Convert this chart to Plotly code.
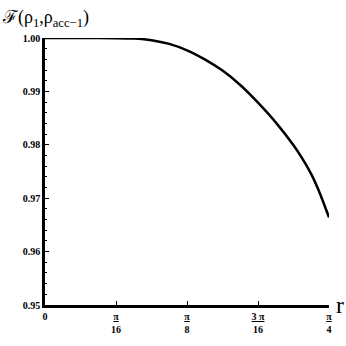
import numpy as np
import plotly.graph_objects as go

# values (r in units of pi/16)
r_units = [0, 0.5, 1.0, 1.25, 1.5, 1.75, 2.0, 2.25, 2.5, 2.75, 3.0, 3.25, 3.5, 3.625, 3.75, 3.875, 4.0]
fidelity = [1.0, 1.0, 0.99997, 0.9999, 0.9996, 0.9989, 0.9977, 0.9960, 0.9939, 0.9912,
            0.9879, 0.9842, 0.9799, 0.9774, 0.9745, 0.9708, 0.9664]
r_vals = [u * np.pi / 16 for u in r_units]

x_tickvals = [0, np.pi / 16, np.pi / 8, 3 * np.pi / 16, np.pi / 4]
x_ticktext = ["0", "<u>π</u><br>16", "<u>π</u><br>8", "<u>3 π</u><br>16", "<u>π</u><br>4"]
y_tickvals = [0.95, 0.96, 0.97, 0.98, 0.99, 1.00]
y_ticktext = ["0.95", "0.96", "0.97", "0.98", "0.99", "1.00"]

serif = "Liberation Serif"

fig = go.Figure()
fig.add_trace(go.Scatter(
    x=r_vals, y=fidelity, mode="lines",
    line=dict(color="black", width=2.5, shape="spline", smoothing=0.6),
    hoverinfo="skip", showlegend=False,
))

fig.update_layout(
    width=346, height=346,
    margin=dict(l=45, r=17, t=38, b=41),
    plot_bgcolor="white", paper_bgcolor="white",
    font=dict(family=serif, color="black"),
    xaxis=dict(
        range=[0, np.pi / 4], showgrid=False, zeroline=False,
        showline=True, linecolor="black", linewidth=3,
        ticks="inside", ticklen=4, tickwidth=1, tickcolor="black",
        tickvals=x_tickvals, ticktext=x_ticktext,
        tickfont=dict(family=serif, size=10, color="black", weight="bold"),
    ),
    yaxis=dict(
        range=[0.95, 1.0], showgrid=False, zeroline=False,
        showline=True, linecolor="black", linewidth=2.5,
        ticks="inside", ticklen=4, tickwidth=1, tickcolor="black",
        tickvals=y_tickvals, ticktext=y_ticktext,
        tickfont=dict(family=serif, size=10, color="black", weight="bold"),
        minor=dict(dtick=0.002, ticks="inside", ticklen=2, tickcolor="black"),
    ),
    annotations=[
        dict(text="ℱ(ρ<sub>1</sub>,ρ<sub>acc−1</sub>)", xref="paper", yref="paper",
             x=-0.158, y=1.072, xanchor="left", yanchor="middle", showarrow=False,
             font=dict(family=serif, size=18, color="black")),
        dict(text="r", xref="paper", yref="paper", x=1.018, y=0.0,
             xanchor="left", yanchor="middle", showarrow=False,
             font=dict(family=serif, size=24, color="black")),
    ],
)

fig.write_html("out.html", config={"displayModeBar": False},
               post_script="document.body.style.margin='0px';")
